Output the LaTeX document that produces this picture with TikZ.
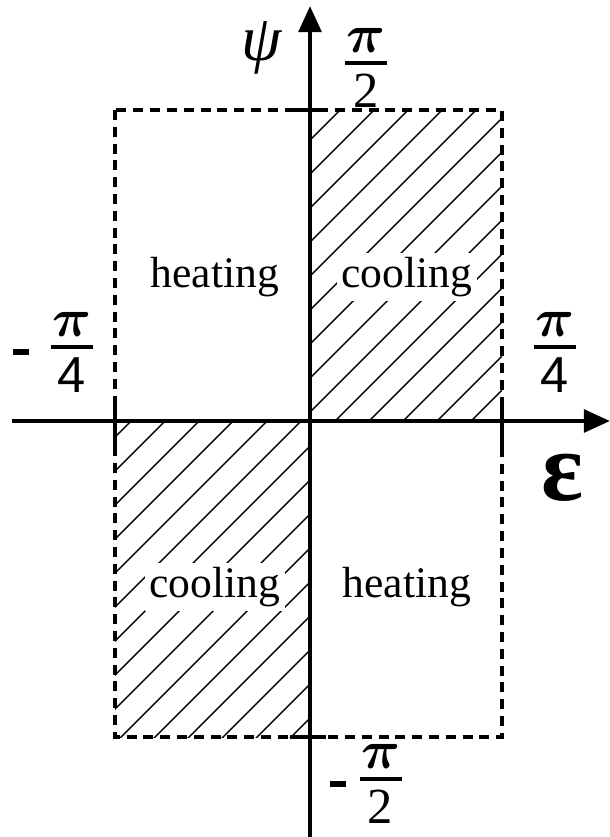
\documentclass[tikz,border=0pt]{standalone}
\usepackage{amsmath}
\usepackage{fontspec}
\setmainfont{Liberation Serif}
\newfontfamily\digitfont{Liberation Sans}
\usetikzlibrary{arrows.meta}
\newcommand{\piover}[1]{\(\vcenter{\offinterlineskip\halign{\hfil\kern1pt##\kern1pt\hfil\cr
  \fontsize{24.88}{24.88}\selectfont\scalebox{1.55}{$\boldsymbol{\pi}$}\cr
  \noalign{\kern6pt\hrule height 3pt\kern6pt}
  #1\cr}}\)}
\newcommand{\minussign}{\(\vcenter{\hbox{\rule{0.38cm}{0.15cm}}}\)}
\tikzset{
  axis/.style={line width=3.1pt,-{Triangle[length=0.65cm,width=0.56cm]}},
  border/.style={line width=3.1pt,dash pattern=on 0.25cm off 0.17cm},
  tick/.style={line width=3.1pt},
  hatch/.style={line width=1pt},
  region/.style={fill=white,inner sep=3pt,font=\fontsize{31}{31}\selectfont,anchor=base},
  fraclabel/.style={inner sep=0pt,font=\fontsize{36}{36}\selectfont},
  axislabel/.style={inner sep=0pt}
}
\begin{document}
\begin{tikzpicture}[x=0.025cm,y=-0.025cm]
    \useasboundingbox (0,0) rectangle (610,837);

    % hatched quadrants
    \begin{scope}
      \clip (310,110) rectangle (502,421);
      \foreach \c in {416,450,...,960}
        \draw[hatch] (\c-900,900) -- (\c,0);
    \end{scope}
    \begin{scope}
      \clip (115,421) rectangle (310,737);
      \foreach \c in {518,552,...,1100}
        \draw[hatch] (\c-900,900) -- (\c,0);
    \end{scope}

    % dashed frame
    \draw[border] (115,110) rectangle (502,737);
    \foreach \x in {115,502}
      \draw[tick] (\x,397) -- (\x,447);
    \foreach \y in {110,737}
      \draw[tick] (290,\y) -- (326,\y);

    % axes
    \coordinate (xstart) at (12,421);
    \coordinate (xend) at (610,421);
    \coordinate (ystart) at (310,837);
    \coordinate (yend) at (310,6);
    \draw[axis] (xstart) -- (xend);
    \draw[axis] (ystart) -- (yend);

    \node[axislabel,font=\fontsize{46}{46}\selectfont\itshape] (psi) at (262,48) {ψ};
    \node[axislabel,font=\fontsize{70}{70}\selectfont\bfseries] (eps) at (563,478) {ε};

    \node[fraclabel] (top) at (366,68) {\piover{2}};
    \node[fraclabel] (bottom) at (366,784) {\minussign\hspace{0.35cm}\piover{2}};
    \node[fraclabel] (left) at (53,352) {\minussign\hspace{0.55cm}\piover{\digitfont 4}};
    \node[fraclabel] (right) at (555,352) {\piover{\digitfont 4}};

    \node[region] (heatup) at (215,287) {heating};
    \node[region] (coolup) at (407,287) {cooling};
    \node[region] (coollow) at (215,597) {cooling};
    \node[region] (heatlow) at (407,597) {heating};
  \end{tikzpicture}
\end{document}
